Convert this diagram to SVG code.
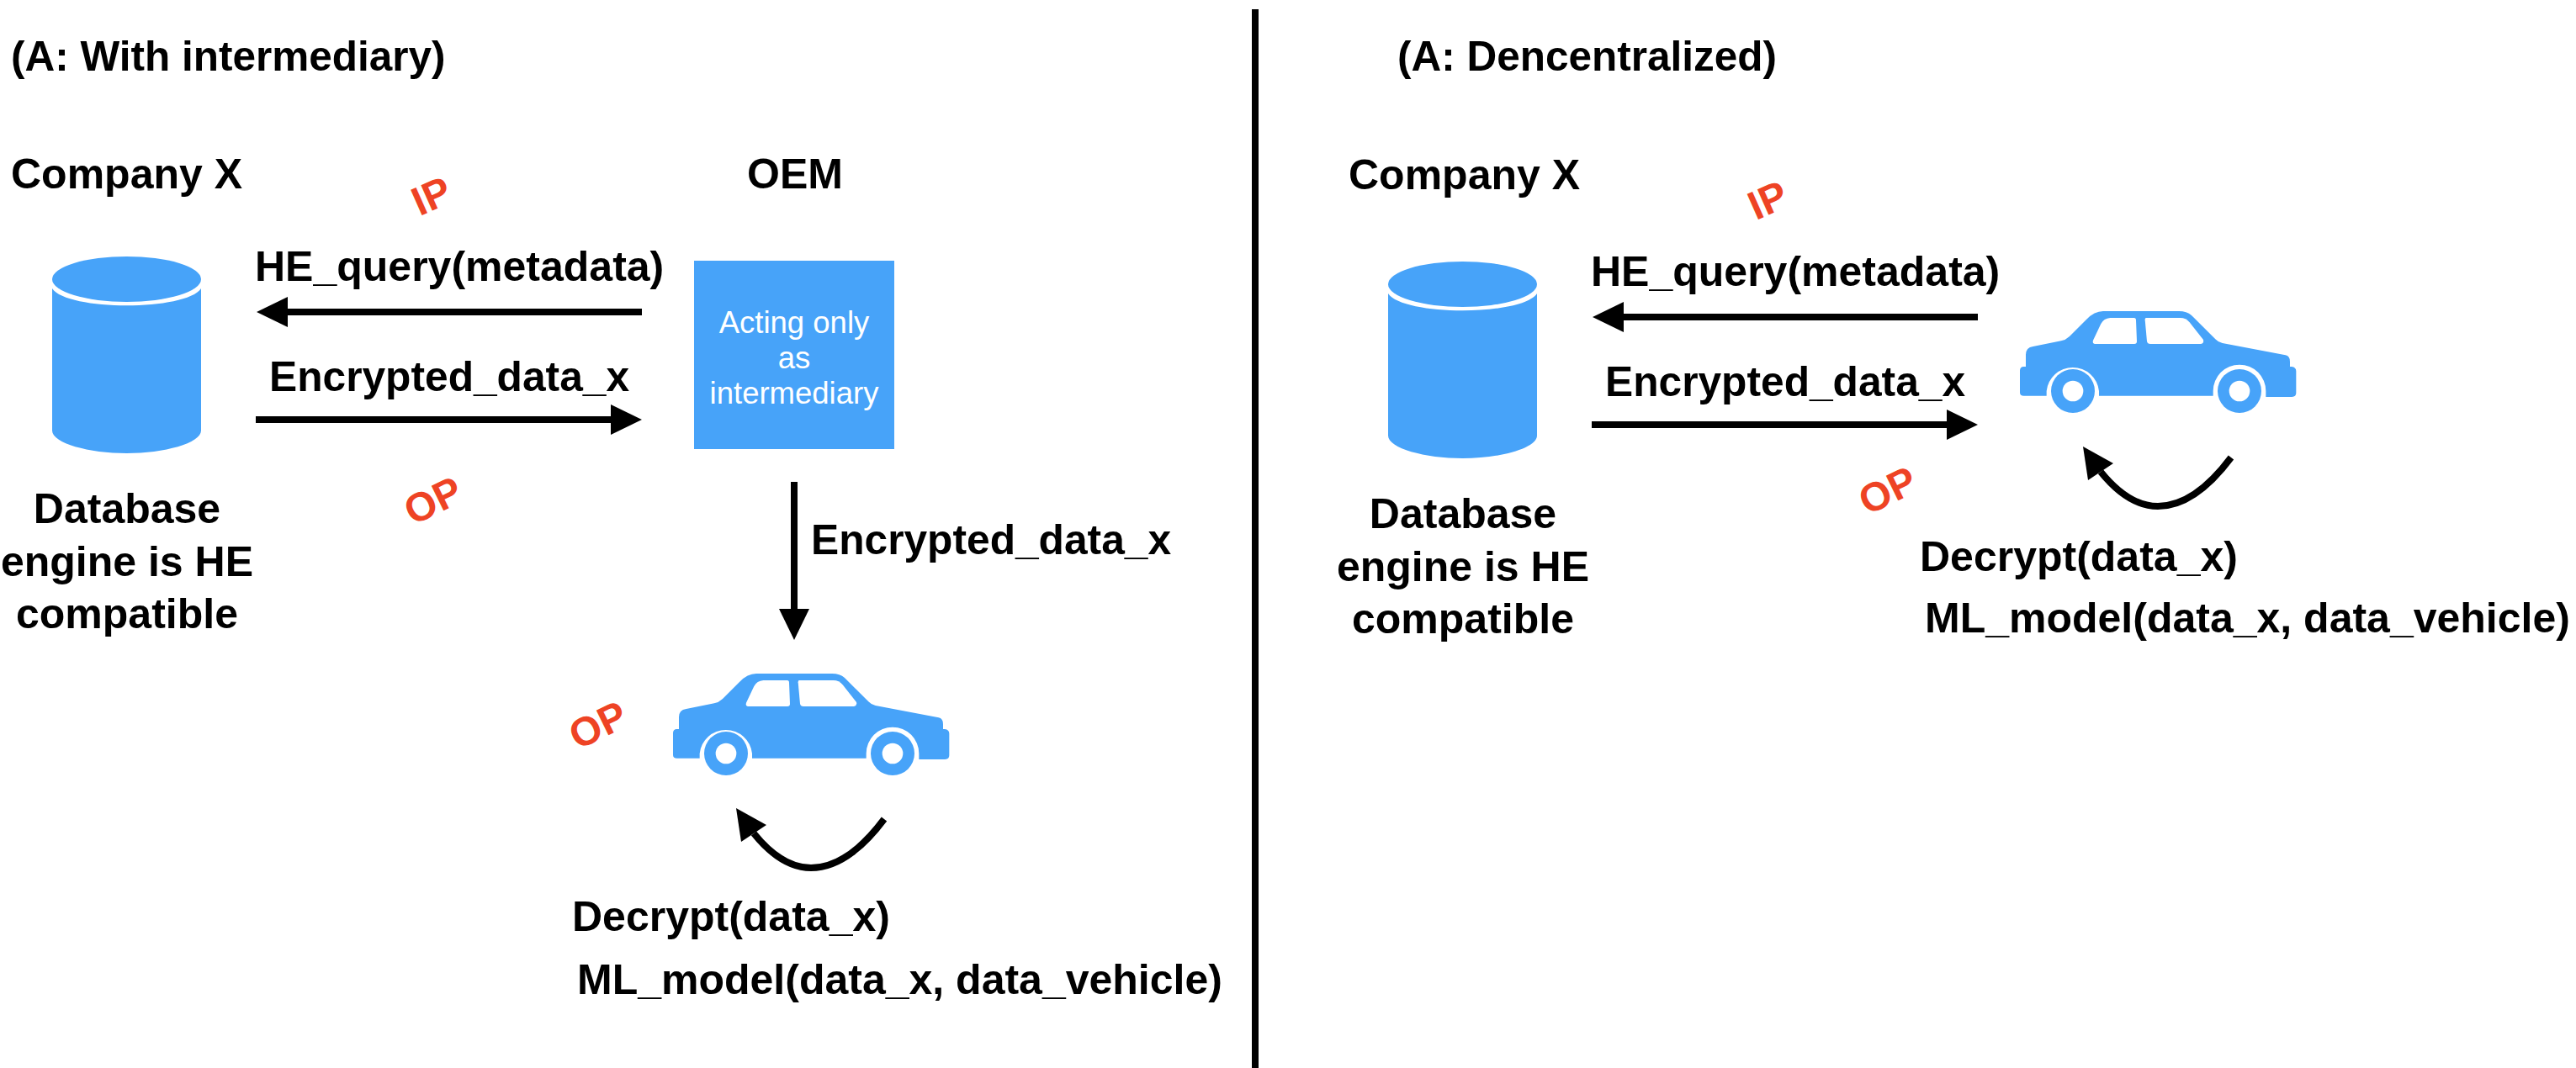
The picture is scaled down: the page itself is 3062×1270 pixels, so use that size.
<svg xmlns="http://www.w3.org/2000/svg" xmlns:xlink="http://www.w3.org/1999/xlink" width="3062" height="1270" viewBox="0 0 3062 1270">
<style>
text{font-family:"Liberation Sans",Arial,sans-serif}
.b{font-weight:700;font-size:50px;fill:#000}
.t{font-size:49.500px}
.e{font-size:49.700px}
.d{font-size:50px;text-anchor:middle}
.m{text-anchor:middle}
.w{font-size:36.500px;fill:#fff;text-anchor:middle}
.r{font-weight:700;font-size:48px;fill:#EE4324;text-anchor:middle}
.fill{fill:#47A3F9}
.line{stroke:#000;stroke-width:8;fill:none}
.head{fill:#000}
</style>
<defs>
<g id="car" transform="scale(0.33333)">
<path class="fill" d="M423 302Q423 288 437 288H444V245Q444 220 470 216L570 196Q586 193 600 180L660 120Q688 90 720 90H990Q1018 90 1035 105L1120 190Q1130 201 1145 204L1370 247Q1386 250 1386 270V288H1392Q1408 290 1408 304V382Q1408 396 1393 396H1300V375A94 94 0 0 0 1112 375V392H705V375A94 94 0 0 0 518 375V392H437Q423 392 423 380Z"/>
<path fill="#fff" d="M745 114H830Q837 114 837 122L840 198Q840 207 831 207H692Q680 206 684 194L712 135Q722 116 745 114Z"/>
<path fill="#fff" d="M873 114H995Q1015 114 1028 130L1077 192Q1080 205 1068 207H888Q878 207 876 197L869 121Q869 114 873 114Z"/>
<circle class="fill" cx="612" cy="375" r="78"/><circle fill="#fff" cx="612" cy="375" r="37"/>
<circle class="fill" cx="1206" cy="375" r="78"/><circle fill="#fff" cx="1206" cy="375" r="37"/>
</g>
<g id="cyl">
<path class="fill" d="M62 343C80 370 221 370 239 343V512C239 527 195 539 150.500 539C106 539 62 527 62 512Z"/>
<ellipse class="fill" cx="150.500" cy="332" rx="88.500" ry="27"/>
</g>
<g id="loop">
<path class="line" d="M2652 544C2625 580 2595 602 2565 602C2540 602 2518 587 2497 561"/>
<path class="head" d="M2476 531L2512 551L2482 571Z"/>
</g>
</defs>
<rect width="3062" height="1270" fill="#fff"/>
<g id="connectors">
<rect x="1488" y="11" width="8" height="1259" fill="#000"/>
<path class="line" d="M763 371H340"/><path class="head" d="M305 371L342 353V389Z"/>
<path class="line" d="M304 499H730"/><path class="head" d="M763 499L726 481V517Z"/>
<path class="line" d="M944 573V728"/><path class="head" d="M944 761L926 724H962Z"/>
<path class="line" d="M2351 377H1930"/><path class="head" d="M1893 377L1930 359V395Z"/>
<path class="line" d="M1892 505H2318"/><path class="head" d="M2351 505L2314 487V523Z"/>
<use xlink:href="#loop" href="#loop" transform="translate(-1601,430)"/>
<use xlink:href="#loop" href="#loop"/>
</g>
<g id="title-left"><text class="b t" x="13" y="84">(A: With intermediary)</text></g>
<g id="title-right"><text class="b t" x="1661" y="84">(A: Dencentralized)</text></g>
<g id="company-left"><text class="b" x="13" y="224">Company X</text></g>
<g id="oem"><text class="b m" x="945" y="224">OEM</text></g>
<g id="oem-box"><rect class="fill" x="825" y="310" width="238" height="224"/>
<text class="w"><tspan x="944" y="396">Acting only</tspan><tspan x="944" y="438">as</tspan><tspan x="944" y="480">intermediary</tspan></text></g>
<g id="db-left"><use xlink:href="#cyl" href="#cyl"/>
<text class="b d"><tspan x="151" y="622">Database</tspan><tspan x="151" y="685">engine is HE</tspan><tspan x="151" y="747">compatible</tspan></text></g>
<g id="labels-left">
<text class="b" x="303" y="334">HE_query(metadata)</text>
<text class="b e" x="320" y="465">Encrypted_data_x</text>
<text class="r" transform="translate(519.500,248) rotate(-24)">IP</text>
<text class="r" transform="translate(522,610) rotate(-26)">OP</text>
<text class="b e" x="964" y="659">Encrypted_data_x</text>
<text class="r" transform="translate(718,877) rotate(-26)">OP</text>
<text class="b" x="680" y="1107">Decrypt(data_x)</text>
<text class="b" x="686" y="1182">ML_model(data_x, data_vehicle)</text>
</g>
<g id="car-left"><use xlink:href="#car" href="#car" transform="translate(659,771)"/></g>
<g id="company-right"><text class="b" x="1603" y="225">Company X</text></g>
<g id="db-right"><use xlink:href="#cyl" href="#cyl" transform="translate(1588,6)"/>
<text class="b d"><tspan x="1739" y="628">Database</tspan><tspan x="1739" y="691">engine is HE</tspan><tspan x="1739" y="753">compatible</tspan></text></g>
<g id="car-right"><use xlink:href="#car" href="#car" transform="translate(2260,340)"/></g>
<g id="labels-right">
<text class="b" x="1891" y="340">HE_query(metadata)</text>
<text class="b e" x="1908" y="471">Encrypted_data_x</text>
<text class="r" transform="translate(2108,253) rotate(-24)">IP</text>
<text class="r" transform="translate(2251,598) rotate(-26)">OP</text>
<text class="b" x="2282" y="679">Decrypt(data_x)</text>
<text class="b" x="2288" y="752">ML_model(data_x, data_vehicle)</text>
</g>
</svg>
